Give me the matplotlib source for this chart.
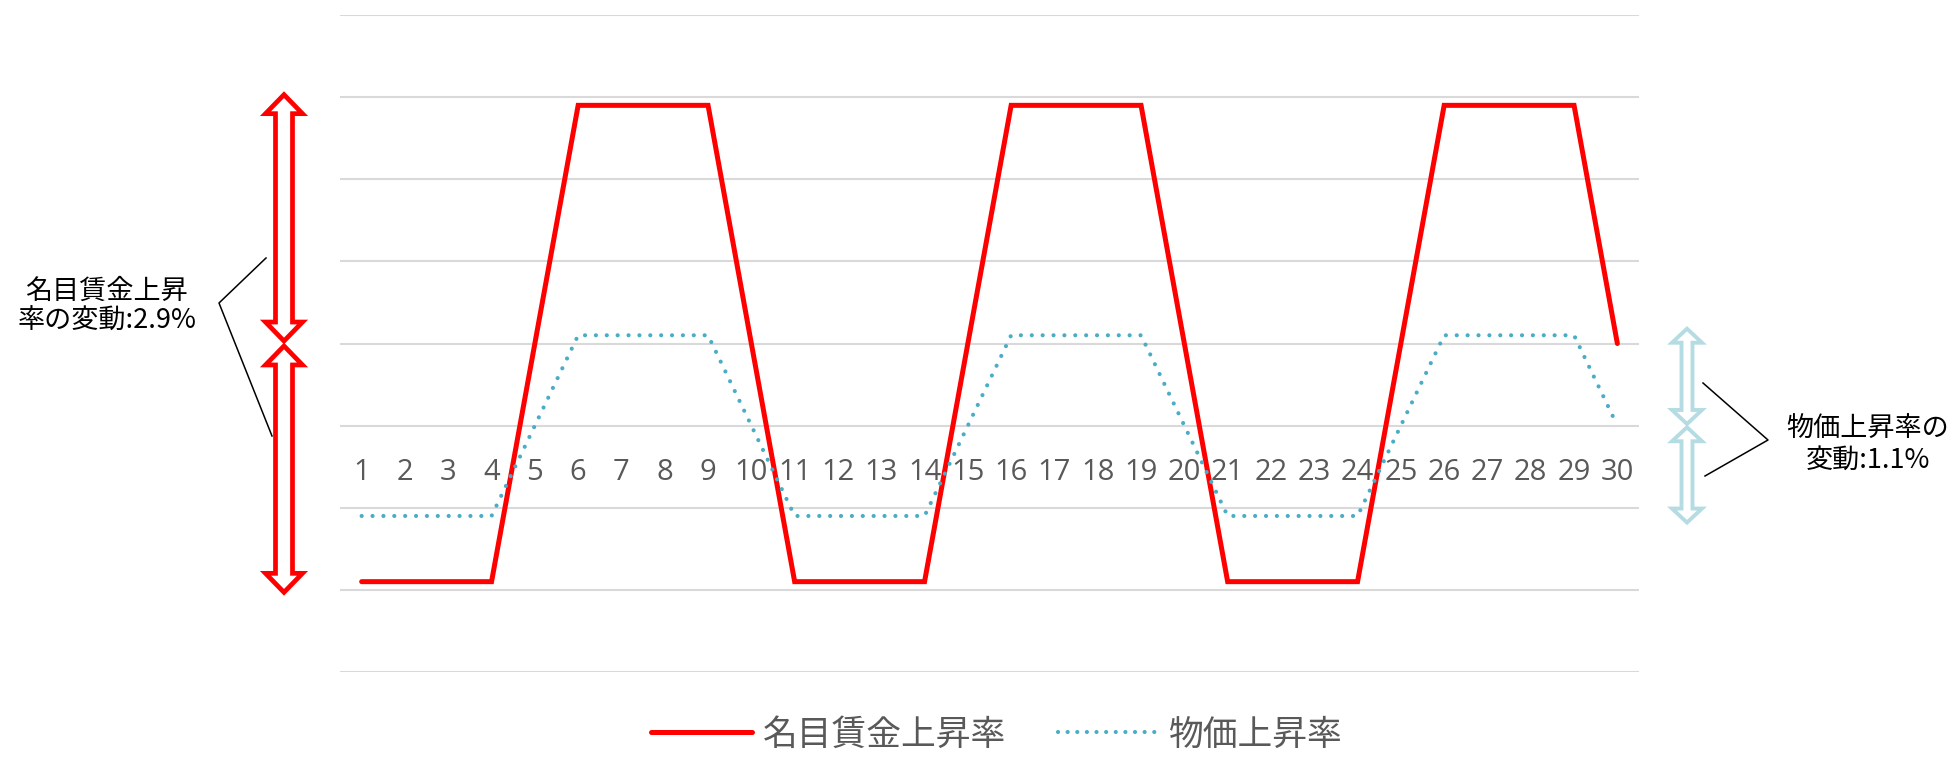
import numpy as np
import matplotlib.pyplot as plt
from matplotlib.patches import Polygon
from matplotlib.lines import Line2D

# data
periods = list(range(1, 31))
wage_growth = [-1.9, -1.9, -1.9, -1.9, 1.0, 3.9, 3.9, 3.9, 3.9, 1.0,
               -1.9, -1.9, -1.9, -1.9, 1.0, 3.9, 3.9, 3.9, 3.9, 1.0,
               -1.9, -1.9, -1.9, -1.9, 1.0, 3.9, 3.9, 3.9, 3.9, 1.0]
price_growth = [-1.1, -1.1, -1.1, -1.1, 0.0, 1.1, 1.1, 1.1, 1.1, 0.0,
                -1.1, -1.1, -1.1, -1.1, 0.0, 1.1, 1.1, 1.1, 1.1, 0.0,
                -1.1, -1.1, -1.1, -1.1, 0.0, 1.1, 1.1, 1.1, 1.1, 0.0]
wage_mid, wage_amp = 1.0, 2.9
price_mid, price_amp = 0.0, 1.1
series_labels = ['名目賃金上昇率', '物価上昇率']
wage_note = '名目賃金上昇\n率の変動:2.9%'
price_note = '物価上昇率の\n変動:1.1%'

RED = '#FF0000'
BLUE = '#4BACC6'
ARROW_BLUE = '#B4DCE2'
GRID = '#D9D9D9'
GRAY = '#595959'
JP = ['Noto Sans CJK JP', 'DejaVu Sans']

W, H = 1955, 759
fig = plt.figure(figsize=(W / 100, H / 100), dpi=100)
ax = fig.add_axes([340 / W, 1 - 672 / H, (1639 - 340) / W, (672 - 15) / H])


def px(x, y):
    # top-down pixel -> figure fraction
    return x / W, 1 - y / H


def y_to_px(v):
    return H - ax.transData.transform((0, v))[1]


def double_arrow(xc, v_top, v_bot, head_w, shaft_w, head_len, color, lw):
    yt, yb = y_to_px(v_top), y_to_px(v_bot)
    h, s = head_w / 2, shaft_w / 2
    pts = [(xc, yt), (xc + h, yt + head_len), (xc + s, yt + head_len),
           (xc + s, yb - head_len), (xc + h, yb - head_len), (xc, yb),
           (xc - h, yb - head_len), (xc - s, yb - head_len),
           (xc - s, yt + head_len), (xc - h, yt + head_len)]
    fig.add_artist(Polygon([px(*p) for p in pts], closed=True,
                           transform=fig.transFigure, facecolor='white',
                           edgecolor=color, linewidth=lw, joinstyle='miter'))


def bracket(points):
    xs, ys = zip(*[px(*p) for p in points])
    fig.add_artist(Line2D(xs, ys, transform=fig.transFigure,
                          color='black', linewidth=1.1))


ax.plot(periods, wage_growth, color=RED, linewidth=3.6,
        solid_capstyle='round', solid_joinstyle='miter', zorder=3)
ax.plot(periods, price_growth, color=BLUE, linewidth=3.0,
        linestyle=(0, (0.01, 2.6)), dash_capstyle='round', zorder=3)

ax.set_xlim(0.5, 30.5)
ax.set_ylim(-3, 5)
ax.set_yticks(np.arange(-3, 6))
ax.yaxis.grid(True, color=GRID, linewidth=1.5)
ax.set_axisbelow(True)
ax.tick_params(axis='y', left=False, labelleft=False)
ax.set_xticks(periods)
ax.set_xticklabels([str(p) for p in periods])
ax.spines['bottom'].set_position(('data', 0))
for sp in ax.spines.values():
    sp.set_visible(False)
ax.tick_params(axis='x', length=0, pad=23, labelsize=21, labelcolor=GRAY)
for t in ax.get_xticklabels():
    t.set_fontfamily('Open Sans')

# variation arrows
gap, ext = 0.03, 0.13
double_arrow(284, wage_mid + wage_amp + ext, wage_mid + gap,
             37, 17, 19, RED, 3.4)
double_arrow(284, wage_mid - gap, wage_mid - wage_amp - ext,
             37, 17, 19, RED, 3.4)
double_arrow(1687, price_mid + price_amp + 0.08, price_mid + 0.02,
             30, 11, 14, ARROW_BLUE, 2.8)
double_arrow(1687, price_mid - 0.02, price_mid - price_amp - 0.08,
             30, 11, 14, ARROW_BLUE, 2.8)

bracket([(266, 258), (219, 303), (272, 436)])
bracket([(1703, 383), (1768, 440), (1705, 476)])

fig.text(*px(107, 306), wage_note, ha='center', va='center',
         multialignment='center', fontsize=19.5, family=JP, linespacing=1.15)
fig.text(*px(1868, 445), price_note, ha='center', va='center',
         multialignment='center', fontsize=19.5, family=JP, linespacing=1.2)

handles = [Line2D([], [], color=RED, linewidth=3.6, solid_capstyle='round'),
           Line2D([], [], color=BLUE, linewidth=3.0,
                  linestyle=(0, (0.01, 2.3)), dash_capstyle='round')]
fig.legend(handles, series_labels, loc='center', ncol=2, frameon=False,
           bbox_to_anchor=px(997, 735), prop={'family': JP, 'size': 25},
           labelcolor=GRAY, handlelength=2.9, handletextpad=0.3,
           columnspacing=1.5, borderpad=0)

fig.savefig('out.png', dpi=100)
